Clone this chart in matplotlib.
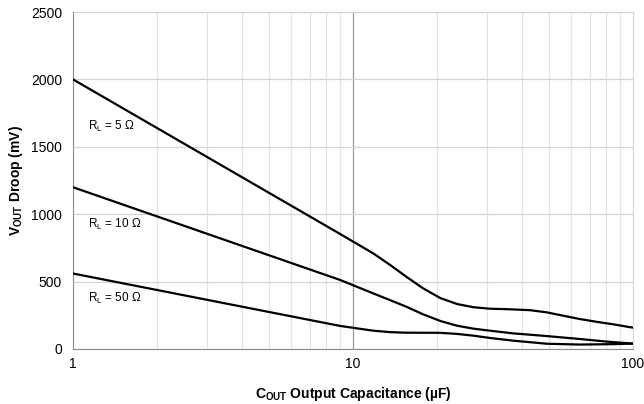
import numpy as np
import matplotlib.pyplot as plt
from matplotlib.ticker import FixedLocator, NullFormatter

plt.rcParams['font.family'] = ['Liberation Sans', 'DejaVu Sans']

# values (C in uF, droop in mV)
c_5 = [1, 9, 11.8, 13.6, 15.5, 17.8, 20.5, 23.5, 26.9, 30.8, 36, 42.9, 49.2, 56, 64.7, 74, 85.1, 100]
v_5 = [2000, 853, 710, 622, 536, 450, 378, 334, 310, 299, 295, 288, 272, 248, 222, 202, 183, 158]

c_10 = [1, 9, 11.8, 15.5, 17.8, 20.5, 23.5, 26.9, 30.8, 37.3, 49.2, 64.7, 80.4, 100]
v_10 = [1200, 512, 413, 314, 257, 208, 173, 151, 136, 116, 96, 74, 55, 40]

c_50 = [1, 3.35, 9, 11.8, 13.6, 15.5, 20.5, 23.5, 26.9, 30.8, 37.3, 49.2, 64.7, 85, 100]
v_50 = [560, 346, 171, 136, 125, 121, 120, 112, 99, 82, 62, 39, 33, 36, 40]

labels = ['R$_\\mathregular{L}$ = 5 Ω', 'R$_\\mathregular{L}$ = 10 Ω', 'R$_\\mathregular{L}$ = 50 Ω']
label_y = [1654, 927, 378]

fig = plt.figure(figsize=(6.44, 4.04), dpi=100)
ax = fig.add_axes([73 / 644, 55 / 404, 560 / 644, 337 / 404])

for c, v in [(c_5, v_5), (c_10, v_10), (c_50, v_50)]:
    ax.plot(c, v, color='black', lw=1.6, solid_joinstyle='round', zorder=3)

for lab, y in zip(labels, label_y):
    ax.text(1.13, y, lab, fontsize=8.5, va='center', ha='left')

ax.set_xscale('log')
ax.set_xlim(1, 100)
ax.set_ylim(0, 2500)
ax.set_yticks([0, 500, 1000, 1500, 2000, 2500])
ax.xaxis.set_major_locator(FixedLocator([1, 10, 100]))
ax.set_xticklabels(['1', '10', '100'])
minors = [m * d for d in (1, 10) for m in range(2, 10)]
ax.xaxis.set_minor_locator(FixedLocator(minors))
ax.xaxis.set_minor_formatter(NullFormatter())

ax.grid(True, axis='y', color='#d4d4d4', lw=0.9)
ax.grid(True, axis='x', which='minor', color='#e2e2e2', lw=0.9)
ax.axvline(10, color='#9a9a9a', lw=0.9, zorder=1)
ax.tick_params(which='both', length=0, labelsize=10)
ax.tick_params(axis='x', pad=6)
ax.tick_params(axis='y', pad=8)

ax.spines['top'].set_visible(False)
ax.spines['right'].set_color('#d4d4d4')
ax.spines['left'].set_color('#8a8a8a')
ax.spines['bottom'].set_color('#8a8a8a')

ax.set_ylabel('V$_\\mathregular{OUT}$ Droop (mV)', fontsize=10, fontweight='bold', labelpad=4)
ax.set_xlabel('C$_\\mathregular{OUT}$ Output Capacitance (µF)', fontsize=10, fontweight='bold', labelpad=10)

fig.savefig('out.png', dpi=100)
